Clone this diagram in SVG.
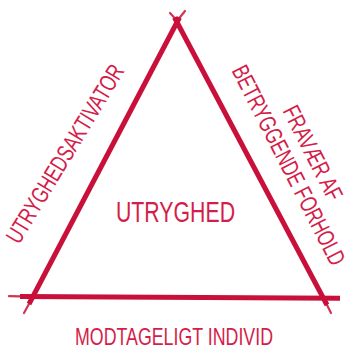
<svg xmlns="http://www.w3.org/2000/svg" width="346" height="348" viewBox="0 0 346 348">
  <style>
    .thick { stroke: #c8103a; stroke-width: 5; stroke-linecap: butt; fill: none; }
    .thin { stroke: #c8103a; stroke-width: 2.2; stroke-linecap: round; fill: none; opacity: 0.85; }
    .lbl { font-family: "Liberation Sans", Arial, sans-serif; fill: #d41d4a; font-size: 24px; text-anchor: middle; }
    .center { font-size: 30px; }
  </style>
  <rect width="346" height="348" fill="#ffffff"/>
  <g id="connectors">
    <line class="thick" x1="29" y1="304" x2="179.5" y2="17.5"/>
    <line class="thin" x1="24" y1="313" x2="30" y2="302"/>
    <line class="thin" x1="179" y1="18.5" x2="185" y2="11"/>
    <line class="thick" x1="174.5" y1="17.5" x2="327" y2="305"/>
    <line class="thin" x1="170" y1="13" x2="175.5" y2="19"/>
    <line class="thin" x1="326" y1="303" x2="331" y2="313"/>
    <line class="thick" x1="20" y1="296.5" x2="340" y2="298.3"/>
    <line class="thin" x1="9" y1="296.2" x2="21" y2="296.4"/>
  </g>
  <g id="node-center">
    <text class="lbl center" x="175.5" y="222" textLength="119" lengthAdjust="spacingAndGlyphs">UTRYGHED</text>
  </g>
  <g id="node-left" transform="translate(72,158) rotate(-58.7)">
    <text class="lbl" x="0" y="0" textLength="204" lengthAdjust="spacingAndGlyphs">UTRYGHEDSAKTIVATOR</text>
  </g>
  <g id="node-right" transform="translate(281.5,169) rotate(63)">
    <text class="lbl" x="0" y="-27" textLength="103" lengthAdjust="spacingAndGlyphs">FRAVÆR AF</text>
    <text class="lbl" x="0" y="0" textLength="221" lengthAdjust="spacingAndGlyphs">BETRYGGENDE FORHOLD</text>
  </g>
  <g id="node-bottom">
    <text class="lbl" x="174" y="345" textLength="198" lengthAdjust="spacingAndGlyphs">MODTAGELIGT INDIVID</text>
  </g>
</svg>
